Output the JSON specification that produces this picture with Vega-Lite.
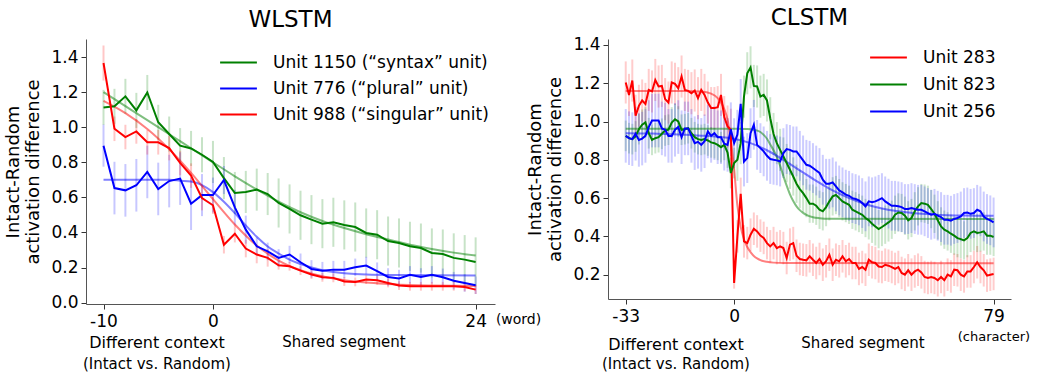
{
"$schema": "https://vega.github.io/schema/vega-lite/v6.json",
"padding": {"left": 4, "top": 6, "right": 2, "bottom": 0},
"bounds": "flush",
"spacing": 113,
"background": "white",
"config": {
  "view": {"stroke": null},
  "axis": {"grid": false, "domainColor": "#555555", "tickColor": "#333333", "labelColor": "#000000", "labelFont": "DejaVu Sans", "labelFontSize": 17, "tickSize": 5, "labelPadding": 3, "titleFont": "DejaVu Sans", "titleFontSize": 18, "titleFontWeight": "normal", "titleColor": "#000000"},
  "axisX": {"labelPadding": 4},
  "legend": {"title": null, "orient": "none", "symbolType": "M-1.6,0H1.6", "symbolStrokeWidth": 2, "symbolSize": 529, "symbolOpacity": 1, "labelFont": "DejaVu Sans", "labelFontSize": 17, "labelColor": "#000000", "labelOffset": 22, "labelLimit": 0, "rowPadding": 5, "padding": 0}
},
"resolve": {"scale": {"color": "independent"}},
"datasets": {
"wl": [
{"u":"Unit 1150","x":-10,"y":1.113,"e":0.1},{"u":"Unit 1150","x":-9,"y":1.119,"e":0.1},{"u":"Unit 1150","x":-8,"y":1.176,"e":0.1},{"u":"Unit 1150","x":-7,"y":1.096,"e":0.1},{"u":"Unit 1150","x":-6,"y":1.198,"e":0.1},{"u":"Unit 1150","x":-5,"y":1.028,"e":0.1},{"u":"Unit 1150","x":-4,"y":0.961,"e":0.1},{"u":"Unit 1150","x":-3,"y":0.895,"e":0.1},{"u":"Unit 1150","x":-2,"y":0.879,"e":0.1},{"u":"Unit 1150","x":-1,"y":0.843,"e":0.1},
{"u":"Unit 1150","x":0,"y":0.802,"e":0.12},{"u":"Unit 1150","x":1,"y":0.71,"e":0.12},{"u":"Unit 1150","x":2,"y":0.625,"e":0.12},{"u":"Unit 1150","x":3,"y":0.631,"e":0.12},{"u":"Unit 1150","x":4,"y":0.644,"e":0.12},{"u":"Unit 1150","x":5,"y":0.619,"e":0.12},
{"u":"Unit 1150","x":6,"y":0.568,"e":0.14},{"u":"Unit 1150","x":7,"y":0.534,"e":0.14},{"u":"Unit 1150","x":8,"y":0.498,"e":0.14},{"u":"Unit 1150","x":9,"y":0.473,"e":0.14},{"u":"Unit 1150","x":10,"y":0.45,"e":0.14},{"u":"Unit 1150","x":11,"y":0.458,"e":0.14},{"u":"Unit 1150","x":12,"y":0.443,"e":0.14},{"u":"Unit 1150","x":13,"y":0.431,"e":0.14},{"u":"Unit 1150","x":14,"y":0.397,"e":0.14},{"u":"Unit 1150","x":15,"y":0.387,"e":0.14},{"u":"Unit 1150","x":16,"y":0.351,"e":0.14},{"u":"Unit 1150","x":17,"y":0.34,"e":0.14},{"u":"Unit 1150","x":18,"y":0.321,"e":0.14},{"u":"Unit 1150","x":19,"y":0.311,"e":0.14},{"u":"Unit 1150","x":20,"y":0.283,"e":0.14},{"u":"Unit 1150","x":21,"y":0.277,"e":0.14},{"u":"Unit 1150","x":22,"y":0.255,"e":0.14},{"u":"Unit 1150","x":23,"y":0.245,"e":0.14},{"u":"Unit 1150","x":24,"y":0.232,"e":0.14},
{"u":"Unit 776","x":-10,"y":0.895,"e":0.12},{"u":"Unit 776","x":-9,"y":0.653,"e":0.15},{"u":"Unit 776","x":-8,"y":0.64,"e":0.15},{"u":"Unit 776","x":-7,"y":0.669,"e":0.15},{"u":"Unit 776","x":-6,"y":0.745,"e":0.15},{"u":"Unit 776","x":-5,"y":0.648,"e":0.15},{"u":"Unit 776","x":-4,"y":0.693,"e":0.15},{"u":"Unit 776","x":-3,"y":0.707,"e":0.15},{"u":"Unit 776","x":-2,"y":0.564,"e":0.15},{"u":"Unit 776","x":-1,"y":0.613,"e":0.12},{"u":"Unit 776","x":0,"y":0.613,"e":0.1},{"u":"Unit 776","x":1,"y":0.699,"e":0.08},{"u":"Unit 776","x":2,"y":0.543,"e":0.1},{"u":"Unit 776","x":3,"y":0.416,"e":0.08},
{"u":"Unit 776","x":4,"y":0.321,"e":0.05},{"u":"Unit 776","x":5,"y":0.292,"e":0.05},{"u":"Unit 776","x":6,"y":0.255,"e":0.05},{"u":"Unit 776","x":7,"y":0.274,"e":0.05},{"u":"Unit 776","x":8,"y":0.23,"e":0.05},{"u":"Unit 776","x":9,"y":0.192,"e":0.05},{"u":"Unit 776","x":10,"y":0.182,"e":0.05},{"u":"Unit 776","x":11,"y":0.188,"e":0.05},{"u":"Unit 776","x":12,"y":0.188,"e":0.05},{"u":"Unit 776","x":13,"y":0.201,"e":0.05},{"u":"Unit 776","x":14,"y":0.211,"e":0.05},{"u":"Unit 776","x":15,"y":0.179,"e":0.05},{"u":"Unit 776","x":16,"y":0.146,"e":0.05},{"u":"Unit 776","x":17,"y":0.137,"e":0.05},{"u":"Unit 776","x":18,"y":0.158,"e":0.05},{"u":"Unit 776","x":19,"y":0.146,"e":0.05},{"u":"Unit 776","x":20,"y":0.158,"e":0.05},{"u":"Unit 776","x":21,"y":0.144,"e":0.05},{"u":"Unit 776","x":22,"y":0.125,"e":0.05},{"u":"Unit 776","x":23,"y":0.112,"e":0.05},{"u":"Unit 776","x":24,"y":0.099,"e":0.05},
{"u":"Unit 988","x":-10,"y":1.366,"e":0.1},{"u":"Unit 988","x":-9,"y":0.991,"e":0.07},{"u":"Unit 988","x":-8,"y":0.944,"e":0.07},{"u":"Unit 988","x":-7,"y":0.976,"e":0.07},{"u":"Unit 988","x":-6,"y":0.914,"e":0.07},{"u":"Unit 988","x":-5,"y":0.914,"e":0.07},{"u":"Unit 988","x":-4,"y":0.881,"e":0.07},{"u":"Unit 988","x":-3,"y":0.796,"e":0.07},{"u":"Unit 988","x":-2,"y":0.724,"e":0.07},{"u":"Unit 988","x":-1,"y":0.596,"e":0.07},{"u":"Unit 988","x":0,"y":0.555,"e":0.05},{"u":"Unit 988","x":1,"y":0.33,"e":0.05},{"u":"Unit 988","x":2,"y":0.393,"e":0.05},{"u":"Unit 988","x":3,"y":0.308,"e":0.05},{"u":"Unit 988","x":4,"y":0.274,"e":0.05},{"u":"Unit 988","x":5,"y":0.255,"e":0.05},
{"u":"Unit 988","x":6,"y":0.213,"e":0.025},{"u":"Unit 988","x":7,"y":0.207,"e":0.025},{"u":"Unit 988","x":8,"y":0.182,"e":0.025},{"u":"Unit 988","x":9,"y":0.16,"e":0.025},{"u":"Unit 988","x":10,"y":0.144,"e":0.025},{"u":"Unit 988","x":11,"y":0.141,"e":0.025},{"u":"Unit 988","x":12,"y":0.12,"e":0.025},{"u":"Unit 988","x":13,"y":0.118,"e":0.025},{"u":"Unit 988","x":14,"y":0.131,"e":0.025},{"u":"Unit 988","x":15,"y":0.127,"e":0.025},{"u":"Unit 988","x":16,"y":0.112,"e":0.025},{"u":"Unit 988","x":17,"y":0.097,"e":0.025},{"u":"Unit 988","x":18,"y":0.093,"e":0.025},{"u":"Unit 988","x":19,"y":0.093,"e":0.025},{"u":"Unit 988","x":20,"y":0.093,"e":0.025},{"u":"Unit 988","x":21,"y":0.093,"e":0.025},{"u":"Unit 988","x":22,"y":0.093,"e":0.025},{"u":"Unit 988","x":23,"y":0.089,"e":0.025},{"u":"Unit 988","x":24,"y":0.074,"e":0.025}
],
"wlfit": [
{"u":"Unit 1150","x":-10,"f":1.2},{"u":"Unit 1150","x":-8,"f":1.12},{"u":"Unit 1150","x":-6,"f":1.04},{"u":"Unit 1150","x":-4,"f":0.96},{"u":"Unit 1150","x":-2,"f":0.88},{"u":"Unit 1150","x":0,"f":0.8},{"u":"Unit 1150","x":2,"f":0.72},{"u":"Unit 1150","x":4,"f":0.645},{"u":"Unit 1150","x":6,"f":0.575},{"u":"Unit 1150","x":8,"f":0.515},{"u":"Unit 1150","x":10,"f":0.465},{"u":"Unit 1150","x":12,"f":0.425},{"u":"Unit 1150","x":14,"f":0.39},{"u":"Unit 1150","x":16,"f":0.36},{"u":"Unit 1150","x":18,"f":0.33},{"u":"Unit 1150","x":20,"f":0.306},{"u":"Unit 1150","x":22,"f":0.285},{"u":"Unit 1150","x":24,"f":0.268},
{"u":"Unit 776","x":-10,"f":0.7},{"u":"Unit 776","x":-4,"f":0.7},{"u":"Unit 776","x":-3,"f":0.695},{"u":"Unit 776","x":-2,"f":0.69},{"u":"Unit 776","x":-1,"f":0.67},{"u":"Unit 776","x":0,"f":0.63},{"u":"Unit 776","x":1,"f":0.575},{"u":"Unit 776","x":2,"f":0.51},{"u":"Unit 776","x":3,"f":0.44},{"u":"Unit 776","x":4,"f":0.375},{"u":"Unit 776","x":5,"f":0.32},{"u":"Unit 776","x":6,"f":0.28},{"u":"Unit 776","x":7,"f":0.245},{"u":"Unit 776","x":8,"f":0.22},{"u":"Unit 776","x":9,"f":0.2},{"u":"Unit 776","x":10,"f":0.185},{"u":"Unit 776","x":12,"f":0.168},{"u":"Unit 776","x":14,"f":0.16},{"u":"Unit 776","x":17,"f":0.157},{"u":"Unit 776","x":24,"f":0.155},
{"u":"Unit 988","x":-10,"f":1.15},{"u":"Unit 988","x":-8,"f":1.08},{"u":"Unit 988","x":-6,"f":0.99},{"u":"Unit 988","x":-4,"f":0.875},{"u":"Unit 988","x":-2,"f":0.74},{"u":"Unit 988","x":0,"f":0.59},{"u":"Unit 988","x":2,"f":0.445},{"u":"Unit 988","x":4,"f":0.325},{"u":"Unit 988","x":6,"f":0.24},{"u":"Unit 988","x":8,"f":0.185},{"u":"Unit 988","x":10,"f":0.15},{"u":"Unit 988","x":12,"f":0.128},{"u":"Unit 988","x":14,"f":0.114},{"u":"Unit 988","x":16,"f":0.106},{"u":"Unit 988","x":18,"f":0.1},{"u":"Unit 988","x":20,"f":0.097},{"u":"Unit 988","x":24,"f":0.094}
],
"cl": [
{"u":"Unit 283","x":-33,"y":1.204,"e":0.11},{"u":"Unit 283","x":-32,"y":1.139,"e":0.11},{"u":"Unit 283","x":-31,"y":1.214,"e":0.11},{"u":"Unit 283","x":-30,"y":1.03,"e":0.11},{"u":"Unit 283","x":-29,"y":1.082,"e":0.11},{"u":"Unit 283","x":-28,"y":1.11,"e":0.11},{"u":"Unit 283","x":-27,"y":1.092,"e":0.11},{"u":"Unit 283","x":-26,"y":1.165,"e":0.11},{"u":"Unit 283","x":-25,"y":1.157,"e":0.11},{"u":"Unit 283","x":-24,"y":1.217,"e":0.11},{"u":"Unit 283","x":-23,"y":1.183,"e":0.11},{"u":"Unit 283","x":-22,"y":1.186,"e":0.11},{"u":"Unit 283","x":-21,"y":1.117,"e":0.11},{"u":"Unit 283","x":-20,"y":1.099,"e":0.11},{"u":"Unit 283","x":-19,"y":1.204,"e":0.11},{"u":"Unit 283","x":-18,"y":1.197,"e":0.11},{"u":"Unit 283","x":-17,"y":1.174,"e":0.11},{"u":"Unit 283","x":-16,"y":1.235,"e":0.11},{"u":"Unit 283","x":-15,"y":1.165,"e":0.11},{"u":"Unit 283","x":-14,"y":1.16,"e":0.11},{"u":"Unit 283","x":-13,"y":1.148,"e":0.11},{"u":"Unit 283","x":-12,"y":1.162,"e":0.11},{"u":"Unit 283","x":-11,"y":1.122,"e":0.11},{"u":"Unit 283","x":-10,"y":1.165,"e":0.11},{"u":"Unit 283","x":-9,"y":1.139,"e":0.11},{"u":"Unit 283","x":-8,"y":1.099,"e":0.11},{"u":"Unit 283","x":-7,"y":1.07,"e":0.11},{"u":"Unit 283","x":-6,"y":1.07,"e":0.11},{"u":"Unit 283","x":-5,"y":1.075,"e":0.11},{"u":"Unit 283","x":-4,"y":1.139,"e":0.11},{"u":"Unit 283","x":-3,"y":1.023,"e":0.11},{"u":"Unit 283","x":-2,"y":0.974,"e":0.11},{"u":"Unit 283","x":-1,"y":0.957,"e":0.11},
{"u":"Unit 283","x":0,"y":0.157,"e":0.03},{"u":"Unit 283","x":1,"y":0.4,"e":0.085},{"u":"Unit 283","x":2,"y":0.622,"e":0.085},{"u":"Unit 283","x":3,"y":0.374,"e":0.085},{"u":"Unit 283","x":4,"y":0.365,"e":0.085},{"u":"Unit 283","x":5,"y":0.409,"e":0.085},{"u":"Unit 283","x":6,"y":0.44,"e":0.085},{"u":"Unit 283","x":7,"y":0.426,"e":0.085},{"u":"Unit 283","x":8,"y":0.404,"e":0.085},{"u":"Unit 283","x":9,"y":0.392,"e":0.085},{"u":"Unit 283","x":10,"y":0.365,"e":0.085},{"u":"Unit 283","x":11,"y":0.348,"e":0.085},{"u":"Unit 283","x":12,"y":0.365,"e":0.085},{"u":"Unit 283","x":13,"y":0.339,"e":0.085},{"u":"Unit 283","x":14,"y":0.348,"e":0.085},{"u":"Unit 283","x":15,"y":0.339,"e":0.085},{"u":"Unit 283","x":16,"y":0.287,"e":0.085},{"u":"Unit 283","x":17,"y":0.357,"e":0.085},{"u":"Unit 283","x":18,"y":0.365,"e":0.085},{"u":"Unit 283","x":19,"y":0.299,"e":0.085},{"u":"Unit 283","x":20,"y":0.282,"e":0.085},{"u":"Unit 283","x":21,"y":0.278,"e":0.085},{"u":"Unit 283","x":22,"y":0.275,"e":0.085},{"u":"Unit 283","x":23,"y":0.296,"e":0.085},{"u":"Unit 283","x":24,"y":0.278,"e":0.085},{"u":"Unit 283","x":25,"y":0.261,"e":0.085},{"u":"Unit 283","x":26,"y":0.282,"e":0.085},{"u":"Unit 283","x":27,"y":0.252,"e":0.085},{"u":"Unit 283","x":28,"y":0.27,"e":0.085},{"u":"Unit 283","x":29,"y":0.304,"e":0.085},{"u":"Unit 283","x":30,"y":0.252,"e":0.085},{"u":"Unit 283","x":31,"y":0.278,"e":0.085},{"u":"Unit 283","x":32,"y":0.27,"e":0.085},{"u":"Unit 283","x":33,"y":0.296,"e":0.085},{"u":"Unit 283","x":34,"y":0.27,"e":0.085},{"u":"Unit 283","x":35,"y":0.282,"e":0.085},{"u":"Unit 283","x":36,"y":0.261,"e":0.085},{"u":"Unit 283","x":37,"y":0.261,"e":0.085},{"u":"Unit 283","x":38,"y":0.23,"e":0.085},{"u":"Unit 283","x":39,"y":0.24,"e":0.085},{"u":"Unit 283","x":40,"y":0.226,"e":0.085},{"u":"Unit 283","x":41,"y":0.278,"e":0.085},{"u":"Unit 283","x":42,"y":0.265,"e":0.085},{"u":"Unit 283","x":43,"y":0.261,"e":0.085},{"u":"Unit 283","x":44,"y":0.243,"e":0.085},{"u":"Unit 283","x":45,"y":0.24,"e":0.085},{"u":"Unit 283","x":46,"y":0.252,"e":0.085},{"u":"Unit 283","x":47,"y":0.247,"e":0.085},{"u":"Unit 283","x":48,"y":0.24,"e":0.085},{"u":"Unit 283","x":49,"y":0.23,"e":0.085},{"u":"Unit 283","x":50,"y":0.24,"e":0.085},{"u":"Unit 283","x":51,"y":0.209,"e":0.085},{"u":"Unit 283","x":52,"y":0.2,"e":0.085},{"u":"Unit 283","x":53,"y":0.223,"e":0.085},{"u":"Unit 283","x":54,"y":0.2,"e":0.085},{"u":"Unit 283","x":55,"y":0.217,"e":0.085},{"u":"Unit 283","x":56,"y":0.226,"e":0.085},{"u":"Unit 283","x":57,"y":0.212,"e":0.085},{"u":"Unit 283","x":58,"y":0.188,"e":0.085},{"u":"Unit 283","x":59,"y":0.183,"e":0.085},{"u":"Unit 283","x":60,"y":0.188,"e":0.085},{"u":"Unit 283","x":61,"y":0.183,"e":0.085},{"u":"Unit 283","x":62,"y":0.171,"e":0.085},{"u":"Unit 283","x":63,"y":0.188,"e":0.085},{"u":"Unit 283","x":64,"y":0.171,"e":0.085},{"u":"Unit 283","x":65,"y":0.2,"e":0.085},{"u":"Unit 283","x":66,"y":0.191,"e":0.085},{"u":"Unit 283","x":67,"y":0.226,"e":0.085},{"u":"Unit 283","x":68,"y":0.223,"e":0.085},{"u":"Unit 283","x":69,"y":0.2,"e":0.085},{"u":"Unit 283","x":70,"y":0.191,"e":0.085},{"u":"Unit 283","x":71,"y":0.217,"e":0.085},{"u":"Unit 283","x":72,"y":0.217,"e":0.085},{"u":"Unit 283","x":73,"y":0.24,"e":0.085},{"u":"Unit 283","x":74,"y":0.265,"e":0.085},{"u":"Unit 283","x":75,"y":0.24,"e":0.085},{"u":"Unit 283","x":76,"y":0.223,"e":0.085},{"u":"Unit 283","x":77,"y":0.195,"e":0.085},{"u":"Unit 283","x":78,"y":0.2,"e":0.085},{"u":"Unit 283","x":79,"y":0.204,"e":0.085},
{"u":"Unit 823","x":-33,"y":0.925,"e":0.08},{"u":"Unit 823","x":-32,"y":0.913,"e":0.08},{"u":"Unit 823","x":-31,"y":0.908,"e":0.08},{"u":"Unit 823","x":-30,"y":0.922,"e":0.08},{"u":"Unit 823","x":-29,"y":0.96,"e":0.08},{"u":"Unit 823","x":-28,"y":0.983,"e":0.08},{"u":"Unit 823","x":-27,"y":0.995,"e":0.08},{"u":"Unit 823","x":-26,"y":0.939,"e":0.08},{"u":"Unit 823","x":-25,"y":0.904,"e":0.08},{"u":"Unit 823","x":-24,"y":0.913,"e":0.08},{"u":"Unit 823","x":-23,"y":0.918,"e":0.08},{"u":"Unit 823","x":-22,"y":0.936,"e":0.08},{"u":"Unit 823","x":-21,"y":0.953,"e":0.08},{"u":"Unit 823","x":-20,"y":0.957,"e":0.08},{"u":"Unit 823","x":-19,"y":0.995,"e":0.08},{"u":"Unit 823","x":-18,"y":1.012,"e":0.08},{"u":"Unit 823","x":-17,"y":1.0,"e":0.08},{"u":"Unit 823","x":-16,"y":0.957,"e":0.08},{"u":"Unit 823","x":-15,"y":0.96,"e":0.08},{"u":"Unit 823","x":-14,"y":0.965,"e":0.08},{"u":"Unit 823","x":-13,"y":0.939,"e":0.08},{"u":"Unit 823","x":-12,"y":0.918,"e":0.08},{"u":"Unit 823","x":-11,"y":0.908,"e":0.08},{"u":"Unit 823","x":-10,"y":0.904,"e":0.08},{"u":"Unit 823","x":-9,"y":0.908,"e":0.08},{"u":"Unit 823","x":-8,"y":0.901,"e":0.08},{"u":"Unit 823","x":-7,"y":0.891,"e":0.08},{"u":"Unit 823","x":-6,"y":0.887,"e":0.08},{"u":"Unit 823","x":-5,"y":0.878,"e":0.08},{"u":"Unit 823","x":-4,"y":0.866,"e":0.08},{"u":"Unit 823","x":-3,"y":0.878,"e":0.08},{"u":"Unit 823","x":-2,"y":0.838,"e":0.08},{"u":"Unit 823","x":-1,"y":0.731,"e":0.08},{"u":"Unit 823","x":0,"y":0.783,"e":0.08},
{"u":"Unit 823","x":1,"y":0.8,"e":0.11},{"u":"Unit 823","x":2,"y":0.887,"e":0.11},{"u":"Unit 823","x":3,"y":1.13,"e":0.11},{"u":"Unit 823","x":4,"y":1.252,"e":0.11},{"u":"Unit 823","x":5,"y":1.283,"e":0.11},{"u":"Unit 823","x":6,"y":1.186,"e":0.11},{"u":"Unit 823","x":7,"y":1.183,"e":0.11},{"u":"Unit 823","x":8,"y":1.13,"e":0.11},{"u":"Unit 823","x":9,"y":1.139,"e":0.11},{"u":"Unit 823","x":10,"y":1.11,"e":0.11},{"u":"Unit 823","x":11,"y":1.017,"e":0.11},{"u":"Unit 823","x":12,"y":0.935,"e":0.11},{"u":"Unit 823","x":13,"y":0.887,"e":0.11},{"u":"Unit 823","x":14,"y":0.852,"e":0.11},
{"u":"Unit 823","x":15,"y":0.817,"e":0.1},{"u":"Unit 823","x":16,"y":0.783,"e":0.1},{"u":"Unit 823","x":17,"y":0.748,"e":0.1},{"u":"Unit 823","x":18,"y":0.713,"e":0.1},{"u":"Unit 823","x":19,"y":0.675,"e":0.1},{"u":"Unit 823","x":20,"y":0.647,"e":0.1},{"u":"Unit 823","x":21,"y":0.626,"e":0.1},{"u":"Unit 823","x":22,"y":0.6,"e":0.1},{"u":"Unit 823","x":23,"y":0.571,"e":0.1},{"u":"Unit 823","x":24,"y":0.571,"e":0.1},{"u":"Unit 823","x":25,"y":0.56,"e":0.1},{"u":"Unit 823","x":26,"y":0.539,"e":0.1},{"u":"Unit 823","x":27,"y":0.531,"e":0.1},{"u":"Unit 823","x":28,"y":0.553,"e":0.1},{"u":"Unit 823","x":29,"y":0.583,"e":0.1},{"u":"Unit 823","x":30,"y":0.609,"e":0.1},{"u":"Unit 823","x":31,"y":0.616,"e":0.1},{"u":"Unit 823","x":32,"y":0.6,"e":0.1},{"u":"Unit 823","x":33,"y":0.583,"e":0.1},{"u":"Unit 823","x":34,"y":0.574,"e":0.1},{"u":"Unit 823","x":35,"y":0.565,"e":0.1},{"u":"Unit 823","x":36,"y":0.539,"e":0.1},{"u":"Unit 823","x":37,"y":0.531,"e":0.1},{"u":"Unit 823","x":38,"y":0.522,"e":0.1},{"u":"Unit 823","x":39,"y":0.513,"e":0.1},{"u":"Unit 823","x":40,"y":0.496,"e":0.1},{"u":"Unit 823","x":41,"y":0.484,"e":0.1},{"u":"Unit 823","x":42,"y":0.466,"e":0.1},{"u":"Unit 823","x":43,"y":0.452,"e":0.1},{"u":"Unit 823","x":44,"y":0.438,"e":0.1},{"u":"Unit 823","x":45,"y":0.449,"e":0.1},{"u":"Unit 823","x":46,"y":0.461,"e":0.1},{"u":"Unit 823","x":47,"y":0.473,"e":0.1},{"u":"Unit 823","x":48,"y":0.487,"e":0.1},{"u":"Unit 823","x":49,"y":0.513,"e":0.1},{"u":"Unit 823","x":50,"y":0.525,"e":0.1},{"u":"Unit 823","x":51,"y":0.522,"e":0.1},{"u":"Unit 823","x":52,"y":0.508,"e":0.1},{"u":"Unit 823","x":53,"y":0.484,"e":0.1},{"u":"Unit 823","x":54,"y":0.496,"e":0.1},{"u":"Unit 823","x":55,"y":0.531,"e":0.1},{"u":"Unit 823","x":56,"y":0.557,"e":0.1},{"u":"Unit 823","x":57,"y":0.574,"e":0.1},{"u":"Unit 823","x":58,"y":0.571,"e":0.1},{"u":"Unit 823","x":59,"y":0.565,"e":0.1},{"u":"Unit 823","x":60,"y":0.543,"e":0.1},{"u":"Unit 823","x":61,"y":0.518,"e":0.1},{"u":"Unit 823","x":62,"y":0.484,"e":0.1},{"u":"Unit 823","x":63,"y":0.452,"e":0.1},{"u":"Unit 823","x":64,"y":0.435,"e":0.1},{"u":"Unit 823","x":65,"y":0.426,"e":0.1},{"u":"Unit 823","x":66,"y":0.414,"e":0.1},{"u":"Unit 823","x":67,"y":0.404,"e":0.1},{"u":"Unit 823","x":68,"y":0.391,"e":0.1},{"u":"Unit 823","x":69,"y":0.386,"e":0.1},{"u":"Unit 823","x":70,"y":0.379,"e":0.1},{"u":"Unit 823","x":71,"y":0.391,"e":0.1},{"u":"Unit 823","x":72,"y":0.418,"e":0.1},{"u":"Unit 823","x":73,"y":0.426,"e":0.1},{"u":"Unit 823","x":74,"y":0.418,"e":0.1},{"u":"Unit 823","x":75,"y":0.421,"e":0.1},{"u":"Unit 823","x":76,"y":0.426,"e":0.1},{"u":"Unit 823","x":77,"y":0.404,"e":0.1},{"u":"Unit 823","x":78,"y":0.404,"e":0.1},{"u":"Unit 823","x":79,"y":0.397,"e":0.1},
{"u":"Unit 256","x":-33,"y":0.925,"e":0.14},{"u":"Unit 256","x":-32,"y":0.913,"e":0.14},{"u":"Unit 256","x":-31,"y":0.908,"e":0.14},{"u":"Unit 256","x":-30,"y":0.936,"e":0.14},{"u":"Unit 256","x":-29,"y":0.904,"e":0.14},{"u":"Unit 256","x":-28,"y":0.911,"e":0.14},{"u":"Unit 256","x":-27,"y":0.925,"e":0.14},{"u":"Unit 256","x":-26,"y":0.971,"e":0.14},{"u":"Unit 256","x":-25,"y":1.005,"e":0.14},{"u":"Unit 256","x":-24,"y":1.005,"e":0.14},{"u":"Unit 256","x":-23,"y":1.005,"e":0.14},{"u":"Unit 256","x":-22,"y":0.964,"e":0.14},{"u":"Unit 256","x":-21,"y":0.957,"e":0.14},{"u":"Unit 256","x":-20,"y":0.925,"e":0.14},{"u":"Unit 256","x":-19,"y":0.925,"e":0.14},{"u":"Unit 256","x":-18,"y":0.957,"e":0.14},{"u":"Unit 256","x":-17,"y":0.971,"e":0.14},{"u":"Unit 256","x":-16,"y":0.918,"e":0.14},{"u":"Unit 256","x":-15,"y":0.964,"e":0.14},{"u":"Unit 256","x":-14,"y":0.964,"e":0.14},{"u":"Unit 256","x":-13,"y":0.925,"e":0.14},{"u":"Unit 256","x":-12,"y":0.887,"e":0.14},{"u":"Unit 256","x":-11,"y":0.894,"e":0.14},{"u":"Unit 256","x":-10,"y":0.878,"e":0.14},{"u":"Unit 256","x":-9,"y":0.897,"e":0.14},{"u":"Unit 256","x":-8,"y":0.948,"e":0.14},{"u":"Unit 256","x":-7,"y":0.925,"e":0.14},{"u":"Unit 256","x":-6,"y":0.939,"e":0.14},{"u":"Unit 256","x":-5,"y":0.918,"e":0.14},{"u":"Unit 256","x":-4,"y":0.918,"e":0.14},{"u":"Unit 256","x":-3,"y":0.884,"e":0.14},{"u":"Unit 256","x":-2,"y":0.878,"e":0.14},{"u":"Unit 256","x":-1,"y":0.96,"e":0.14},
{"u":"Unit 256","x":0,"y":0.887,"e":0.13},{"u":"Unit 256","x":1,"y":0.931,"e":0.13},{"u":"Unit 256","x":2,"y":1.092,"e":0.13},{"u":"Unit 256","x":3,"y":0.791,"e":0.13},{"u":"Unit 256","x":4,"y":0.809,"e":0.13},{"u":"Unit 256","x":5,"y":0.939,"e":0.13},{"u":"Unit 256","x":6,"y":0.983,"e":0.13},{"u":"Unit 256","x":7,"y":0.878,"e":0.13},{"u":"Unit 256","x":8,"y":0.861,"e":0.13},{"u":"Unit 256","x":9,"y":0.844,"e":0.13},{"u":"Unit 256","x":10,"y":0.821,"e":0.13},{"u":"Unit 256","x":11,"y":0.804,"e":0.13},{"u":"Unit 256","x":12,"y":0.8,"e":0.13},{"u":"Unit 256","x":13,"y":0.797,"e":0.13},{"u":"Unit 256","x":14,"y":0.791,"e":0.13},{"u":"Unit 256","x":15,"y":0.835,"e":0.13},{"u":"Unit 256","x":16,"y":0.856,"e":0.13},{"u":"Unit 256","x":17,"y":0.852,"e":0.13},{"u":"Unit 256","x":18,"y":0.844,"e":0.13},{"u":"Unit 256","x":19,"y":0.844,"e":0.13},{"u":"Unit 256","x":20,"y":0.821,"e":0.13},{"u":"Unit 256","x":21,"y":0.797,"e":0.13},{"u":"Unit 256","x":22,"y":0.774,"e":0.13},{"u":"Unit 256","x":23,"y":0.769,"e":0.13},{"u":"Unit 256","x":24,"y":0.757,"e":0.13},{"u":"Unit 256","x":25,"y":0.744,"e":0.13},{"u":"Unit 256","x":26,"y":0.731,"e":0.13},{"u":"Unit 256","x":27,"y":0.696,"e":0.13},{"u":"Unit 256","x":28,"y":0.675,"e":0.13},{"u":"Unit 256","x":29,"y":0.675,"e":0.13},{"u":"Unit 256","x":30,"y":0.682,"e":0.13},{"u":"Unit 256","x":31,"y":0.661,"e":0.13},{"u":"Unit 256","x":32,"y":0.64,"e":0.13},{"u":"Unit 256","x":33,"y":0.63,"e":0.13},{"u":"Unit 256","x":34,"y":0.618,"e":0.13},{"u":"Unit 256","x":35,"y":0.612,"e":0.13},{"u":"Unit 256","x":36,"y":0.6,"e":0.13},{"u":"Unit 256","x":37,"y":0.595,"e":0.13},{"u":"Unit 256","x":38,"y":0.588,"e":0.13},{"u":"Unit 256","x":39,"y":0.574,"e":0.13},{"u":"Unit 256","x":40,"y":0.557,"e":0.13},{"u":"Unit 256","x":41,"y":0.583,"e":0.13},{"u":"Unit 256","x":42,"y":0.578,"e":0.13},{"u":"Unit 256","x":43,"y":0.583,"e":0.13},{"u":"Unit 256","x":44,"y":0.591,"e":0.13},{"u":"Unit 256","x":45,"y":0.6,"e":0.13},{"u":"Unit 256","x":46,"y":0.583,"e":0.13},{"u":"Unit 256","x":47,"y":0.571,"e":0.13},{"u":"Unit 256","x":48,"y":0.56,"e":0.13},{"u":"Unit 256","x":49,"y":0.56,"e":0.13},{"u":"Unit 256","x":50,"y":0.557,"e":0.13},{"u":"Unit 256","x":51,"y":0.553,"e":0.13},{"u":"Unit 256","x":52,"y":0.543,"e":0.13},{"u":"Unit 256","x":53,"y":0.543,"e":0.13},{"u":"Unit 256","x":54,"y":0.548,"e":0.13},{"u":"Unit 256","x":55,"y":0.543,"e":0.13},{"u":"Unit 256","x":56,"y":0.539,"e":0.13},{"u":"Unit 256","x":57,"y":0.539,"e":0.13},{"u":"Unit 256","x":58,"y":0.531,"e":0.13},{"u":"Unit 256","x":59,"y":0.522,"e":0.13},{"u":"Unit 256","x":60,"y":0.513,"e":0.13},{"u":"Unit 256","x":61,"y":0.518,"e":0.13},{"u":"Unit 256","x":62,"y":0.508,"e":0.13},{"u":"Unit 256","x":63,"y":0.501,"e":0.13},{"u":"Unit 256","x":64,"y":0.487,"e":0.13},{"u":"Unit 256","x":65,"y":0.487,"e":0.13},{"u":"Unit 256","x":66,"y":0.482,"e":0.13},{"u":"Unit 256","x":67,"y":0.491,"e":0.13},{"u":"Unit 256","x":68,"y":0.496,"e":0.13},{"u":"Unit 256","x":69,"y":0.504,"e":0.13},{"u":"Unit 256","x":70,"y":0.522,"e":0.13},{"u":"Unit 256","x":71,"y":0.525,"e":0.13},{"u":"Unit 256","x":72,"y":0.518,"e":0.13},{"u":"Unit 256","x":73,"y":0.522,"e":0.13},{"u":"Unit 256","x":74,"y":0.539,"e":0.13},{"u":"Unit 256","x":75,"y":0.531,"e":0.13},{"u":"Unit 256","x":76,"y":0.504,"e":0.13},{"u":"Unit 256","x":77,"y":0.491,"e":0.13},{"u":"Unit 256","x":78,"y":0.484,"e":0.13},{"u":"Unit 256","x":79,"y":0.473,"e":0.13}
],
"clfit": [
{"u":"Unit 283","x":-33,"f":1.16},{"u":"Unit 283","x":-15,"f":1.16},{"u":"Unit 283","x":-10,"f":1.157},{"u":"Unit 283","x":-7,"f":1.146},{"u":"Unit 283","x":-5,"f":1.122},{"u":"Unit 283","x":-4,"f":1.1},{"u":"Unit 283","x":-3,"f":1.065},{"u":"Unit 283","x":-2,"f":1.01},{"u":"Unit 283","x":-1,"f":0.9},{"u":"Unit 283","x":0,"f":0.75},{"u":"Unit 283","x":1,"f":0.56},{"u":"Unit 283","x":2,"f":0.45},{"u":"Unit 283","x":3,"f":0.385},{"u":"Unit 283","x":4,"f":0.345},{"u":"Unit 283","x":5,"f":0.318},{"u":"Unit 283","x":6,"f":0.298},{"u":"Unit 283","x":7,"f":0.285},{"u":"Unit 283","x":8,"f":0.276},{"u":"Unit 283","x":10,"f":0.267},{"u":"Unit 283","x":12,"f":0.263},{"u":"Unit 283","x":15,"f":0.261},{"u":"Unit 283","x":79,"f":0.26},
{"u":"Unit 823","x":-33,"f":0.962},{"u":"Unit 823","x":0,"f":0.962},{"u":"Unit 823","x":4,"f":0.961},{"u":"Unit 823","x":6,"f":0.957},{"u":"Unit 823","x":8,"f":0.945},{"u":"Unit 823","x":9,"f":0.93},{"u":"Unit 823","x":10,"f":0.91},{"u":"Unit 823","x":11,"f":0.88},{"u":"Unit 823","x":12,"f":0.85},{"u":"Unit 823","x":13,"f":0.815},{"u":"Unit 823","x":14,"f":0.77},{"u":"Unit 823","x":15,"f":0.715},{"u":"Unit 823","x":16,"f":0.665},{"u":"Unit 823","x":17,"f":0.62},{"u":"Unit 823","x":18,"f":0.585},{"u":"Unit 823","x":19,"f":0.557},{"u":"Unit 823","x":20,"f":0.537},{"u":"Unit 823","x":21,"f":0.523},{"u":"Unit 823","x":22,"f":0.512},{"u":"Unit 823","x":24,"f":0.5},{"u":"Unit 823","x":26,"f":0.495},{"u":"Unit 823","x":29,"f":0.492},{"u":"Unit 823","x":79,"f":0.491},
{"u":"Unit 256","x":-33,"f":0.939},{"u":"Unit 256","x":-25,"f":0.937},{"u":"Unit 256","x":-17,"f":0.932},{"u":"Unit 256","x":-10,"f":0.926},{"u":"Unit 256","x":-5,"f":0.92},{"u":"Unit 256","x":0,"f":0.91},{"u":"Unit 256","x":5,"f":0.887},{"u":"Unit 256","x":10,"f":0.85},{"u":"Unit 256","x":15,"f":0.8},{"u":"Unit 256","x":20,"f":0.745},{"u":"Unit 256","x":25,"f":0.69},{"u":"Unit 256","x":30,"f":0.64},{"u":"Unit 256","x":35,"f":0.6},{"u":"Unit 256","x":40,"f":0.568},{"u":"Unit 256","x":45,"f":0.546},{"u":"Unit 256","x":50,"f":0.531},{"u":"Unit 256","x":55,"f":0.521},{"u":"Unit 256","x":60,"f":0.515},{"u":"Unit 256","x":65,"f":0.511},{"u":"Unit 256","x":70,"f":0.509},{"u":"Unit 256","x":79,"f":0.508}
]
},
"hconcat": [
{
  "width": 409, "height": 265,
  "title": {"text": "WLSTM", "font": "DejaVu Sans", "fontSize": 23, "fontWeight": "normal", "color": "#000000", "offset": 7, "anchor": "middle"},
  "layer": [
    {"data": {"name": "wl"}, "mark": {"type": "errorbar", "ticks": false, "thickness": 2, "opacity": 0.22},
     "encoding": {
       "x": {"field": "x", "type": "quantitative", "scale": {"domain": [-11.6, 25.77], "nice": false, "zero": false}, "axis": {"values": [-10, 0, 24], "title": null, "labelFlush": false, "labelExpr": "replace(datum.label, '−', '-')"}},
       "y": {"field": "y", "type": "quantitative", "scale": {"domain": [-0.008, 1.503], "nice": false, "zero": false}, "axis": {"values": [0, 0.2, 0.4, 0.6, 0.8, 1.0, 1.2, 1.4], "format": ".1f", "title": ["Intact-Random", "activation difference"], "titlePadding": 8, "titleLineHeight": 20}},
       "yError": {"field": "e"},
       "color": {"field": "u", "type": "nominal", "scale": {"domain": ["Unit 1150", "Unit 776", "Unit 988"], "range": ["#008000", "#0000ff", "#ff0000"]},
         "legend": {"symbolType": "M-1.6,0H1.6", "legendX": 140, "legendY": 11, "rowPadding": 5, "labelExpr": "datum.label == 'Unit 1150' ? 'Unit 1150 (“syntax” unit)' : datum.label == 'Unit 776' ? 'Unit 776 (“plural” unit)' : 'Unit 988 (“singular” unit)'", "encode": {"symbols": {"update": {"opacity": {"value": 1}, "strokeOpacity": {"value": 1}, "fillOpacity": {"value": 0}}}}}}
     }},
    {"data": {"name": "wlfit"}, "mark": {"type": "line", "strokeWidth": 2, "opacity": 0.5, "interpolate": "monotone"},
     "encoding": {
       "x": {"field": "x", "type": "quantitative", "scale": {"domain": [-11.6, 25.77], "nice": false, "zero": false}, "axis": {"values": [-10, 0, 24], "title": null, "labelFlush": false, "labelExpr": "replace(datum.label, '−', '-')"}},
       "y": {"field": "f", "type": "quantitative", "scale": {"domain": [-0.008, 1.503], "nice": false, "zero": false}, "axis": {"values": [0, 0.2, 0.4, 0.6, 0.8, 1.0, 1.2, 1.4], "format": ".1f", "title": ["Intact-Random", "activation difference"], "titlePadding": 8, "titleLineHeight": 20}},
       "color": {"field": "u", "type": "nominal", "scale": {"domain": ["Unit 1150", "Unit 776", "Unit 988"], "range": ["#008000", "#0000ff", "#ff0000"]},
         "legend": {"symbolType": "M-1.6,0H1.6", "legendX": 140, "legendY": 11, "rowPadding": 5, "labelExpr": "datum.label == 'Unit 1150' ? 'Unit 1150 (“syntax” unit)' : datum.label == 'Unit 776' ? 'Unit 776 (“plural” unit)' : 'Unit 988 (“singular” unit)'", "encode": {"symbols": {"update": {"opacity": {"value": 1}, "strokeOpacity": {"value": 1}, "fillOpacity": {"value": 0}}}}}}
     }},
    {"data": {"name": "wl"}, "mark": {"type": "line", "strokeWidth": 2},
     "encoding": {
       "x": {"field": "x", "type": "quantitative", "scale": {"domain": [-11.6, 25.77], "nice": false, "zero": false}, "axis": {"values": [-10, 0, 24], "title": null, "labelFlush": false, "labelExpr": "replace(datum.label, '−', '-')"}},
       "y": {"field": "y", "type": "quantitative", "scale": {"domain": [-0.008, 1.503], "nice": false, "zero": false}, "axis": {"values": [0, 0.2, 0.4, 0.6, 0.8, 1.0, 1.2, 1.4], "format": ".1f", "title": ["Intact-Random", "activation difference"], "titlePadding": 8, "titleLineHeight": 20}},
       "color": {"field": "u", "type": "nominal", "scale": {"domain": ["Unit 1150", "Unit 776", "Unit 988"], "range": ["#008000", "#0000ff", "#ff0000"]},
         "legend": {"symbolType": "M-1.6,0H1.6", "legendX": 140, "legendY": 11, "rowPadding": 5, "labelExpr": "datum.label == 'Unit 1150' ? 'Unit 1150 (“syntax” unit)' : datum.label == 'Unit 776' ? 'Unit 776 (“plural” unit)' : 'Unit 988 (“singular” unit)'", "encode": {"symbols": {"update": {"opacity": {"value": 1}, "strokeOpacity": {"value": 1}, "fillOpacity": {"value": 0}}}}}}
     }},
    {"data": {"values": [{"t": "(word)", "x": 25.85, "y": -0.099}]}, "mark": {"type": "text", "font": "DejaVu Sans", "fontSize": 14, "color": "#000000", "align": "left", "baseline": "middle"},
     "encoding": {
       "x": {"field": "x", "type": "quantitative", "scale": {"domain": [-11.6, 25.77], "nice": false, "zero": false}, "axis": {"values": [-10, 0, 24], "title": null, "labelFlush": false, "labelExpr": "replace(datum.label, '−', '-')"}},
       "y": {"field": "y", "type": "quantitative", "scale": {"domain": [-0.008, 1.503], "nice": false, "zero": false}, "axis": {"values": [0, 0.2, 0.4, 0.6, 0.8, 1.0, 1.2, 1.4], "format": ".1f", "title": ["Intact-Random", "activation difference"], "titlePadding": 8, "titleLineHeight": 20}},
       "text": {"field": "t"}}},
    {"data": {"values": [{"t": "Different context", "x": -5.12, "y": -0.23, "s": 16}, {"t": "(Intact vs. Random)", "x": -5.12, "y": -0.35, "s": 15}, {"t": "Shared segment", "x": 11.97, "y": -0.224, "s": 15}]}, "mark": {"type": "text", "font": "DejaVu Sans", "color": "#000000", "align": "center", "baseline": "middle"},
     "encoding": {
       "x": {"field": "x", "type": "quantitative", "scale": {"domain": [-11.6, 25.77], "nice": false, "zero": false}, "axis": {"values": [-10, 0, 24], "title": null, "labelFlush": false, "labelExpr": "replace(datum.label, '−', '-')"}},
       "y": {"field": "y", "type": "quantitative", "scale": {"domain": [-0.008, 1.503], "nice": false, "zero": false}, "axis": {"values": [0, 0.2, 0.4, 0.6, 0.8, 1.0, 1.2, 1.4], "format": ".1f", "title": ["Intact-Random", "activation difference"], "titlePadding": 8, "titleLineHeight": 20}},
       "text": {"field": "t"},
       "size": {"field": "s", "type": "quantitative", "scale": null}}}
  ]
},
{
  "width": 403, "height": 260,
  "title": {"text": "CLSTM", "font": "DejaVu Sans", "fontSize": 23, "fontWeight": "normal", "color": "#000000", "offset": 6, "anchor": "middle"},
  "layer": [
    {"data": {"name": "cl"}, "mark": {"type": "errorbar", "ticks": false, "thickness": 2, "opacity": 0.2},
     "encoding": {
       "x": {"field": "x", "type": "quantitative", "scale": {"domain": [-38.4, 84.3], "nice": false, "zero": false}, "axis": {"values": [-33, 0, 79], "title": null, "labelFlush": false, "labelExpr": "replace(datum.label, '−', '-')"}},
       "y": {"field": "y", "type": "quantitative", "scale": {"domain": [0.073, 1.431], "nice": false, "zero": false}, "axis": {"values": [0.2, 0.4, 0.6, 0.8, 1.0, 1.2, 1.4], "format": ".1f", "title": ["Intact-Random", "activation difference"], "titlePadding": 8, "titleLineHeight": 20}},
       "yError": {"field": "e"},
       "color": {"field": "u", "type": "nominal", "scale": {"domain": ["Unit 283", "Unit 823", "Unit 256"], "range": ["#ff0000", "#008000", "#0000ff"]}, "legend": {"symbolType": "M-1.6,0H1.6", "legendX": 268, "legendY": 6, "rowPadding": 6, "encode": {"symbols": {"update": {"opacity": {"value": 1}, "strokeOpacity": {"value": 1}, "fillOpacity": {"value": 0}}}}}}
     }},
    {"data": {"name": "clfit"}, "mark": {"type": "line", "strokeWidth": 2, "opacity": 0.5, "interpolate": "monotone"},
     "encoding": {
       "x": {"field": "x", "type": "quantitative", "scale": {"domain": [-38.4, 84.3], "nice": false, "zero": false}, "axis": {"values": [-33, 0, 79], "title": null, "labelFlush": false, "labelExpr": "replace(datum.label, '−', '-')"}},
       "y": {"field": "f", "type": "quantitative", "scale": {"domain": [0.073, 1.431], "nice": false, "zero": false}, "axis": {"values": [0.2, 0.4, 0.6, 0.8, 1.0, 1.2, 1.4], "format": ".1f", "title": ["Intact-Random", "activation difference"], "titlePadding": 8, "titleLineHeight": 20}},
       "color": {"field": "u", "type": "nominal", "scale": {"domain": ["Unit 283", "Unit 823", "Unit 256"], "range": ["#ff0000", "#008000", "#0000ff"]}, "legend": {"symbolType": "M-1.6,0H1.6", "legendX": 268, "legendY": 6, "rowPadding": 6, "encode": {"symbols": {"update": {"opacity": {"value": 1}, "strokeOpacity": {"value": 1}, "fillOpacity": {"value": 0}}}}}}
     }},
    {"data": {"name": "cl"}, "mark": {"type": "line", "strokeWidth": 2},
     "encoding": {
       "x": {"field": "x", "type": "quantitative", "scale": {"domain": [-38.4, 84.3], "nice": false, "zero": false}, "axis": {"values": [-33, 0, 79], "title": null, "labelFlush": false, "labelExpr": "replace(datum.label, '−', '-')"}},
       "y": {"field": "y", "type": "quantitative", "scale": {"domain": [0.073, 1.431], "nice": false, "zero": false}, "axis": {"values": [0.2, 0.4, 0.6, 0.8, 1.0, 1.2, 1.4], "format": ".1f", "title": ["Intact-Random", "activation difference"], "titlePadding": 8, "titleLineHeight": 20}},
       "color": {"field": "u", "type": "nominal", "scale": {"domain": ["Unit 283", "Unit 823", "Unit 256"], "range": ["#ff0000", "#008000", "#0000ff"]}, "legend": {"symbolType": "M-1.6,0H1.6", "legendX": 268, "legendY": 6, "rowPadding": 6, "encode": {"symbols": {"update": {"opacity": {"value": 1}, "strokeOpacity": {"value": 1}, "fillOpacity": {"value": 0}}}}}}
     }},
    {"data": {"values": [{"t": "(character)", "x": 79.1, "y": -0.125, "s": 13}, {"t": "Different context", "x": -17.7, "y": -0.167, "s": 16}, {"t": "(Intact vs. Random)", "x": -17.7, "y": -0.267, "s": 15}, {"t": "Shared segment", "x": 39.25, "y": -0.157, "s": 15}]}, "mark": {"type": "text", "font": "DejaVu Sans", "color": "#000000", "align": "center", "baseline": "middle"},
     "encoding": {
       "x": {"field": "x", "type": "quantitative", "scale": {"domain": [-38.4, 84.3], "nice": false, "zero": false}, "axis": {"values": [-33, 0, 79], "title": null, "labelFlush": false, "labelExpr": "replace(datum.label, '−', '-')"}},
       "y": {"field": "y", "type": "quantitative", "scale": {"domain": [0.073, 1.431], "nice": false, "zero": false}, "axis": {"values": [0.2, 0.4, 0.6, 0.8, 1.0, 1.2, 1.4], "format": ".1f", "title": ["Intact-Random", "activation difference"], "titlePadding": 8, "titleLineHeight": 20}},
       "text": {"field": "t"},
       "size": {"field": "s", "type": "quantitative", "scale": null}}}
  ]
}
]
}
